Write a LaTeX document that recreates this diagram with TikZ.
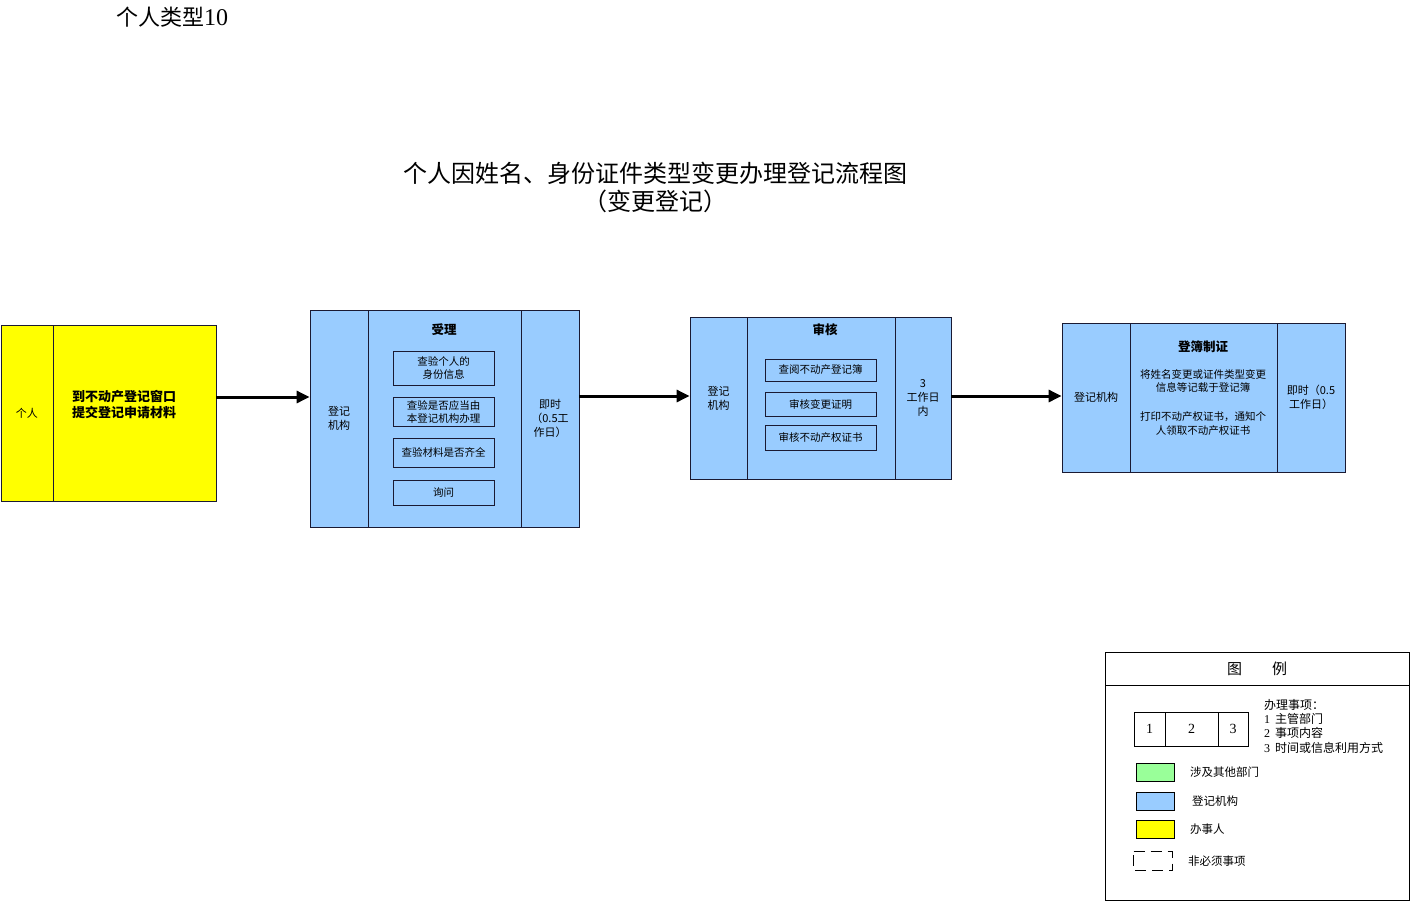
\documentclass[tikz,border=0pt]{standalone}
\usepackage{fontspec}
\setmainfont{Noto Sans CJK SC}
\newfontfamily\serifdig{Liberation Serif}
\usetikzlibrary{arrows.meta}
\definecolor{regblue}{HTML}{99CCFF}
\definecolor{appyel}{HTML}{FFFF00}
\definecolor{othgreen}{HTML}{99FF99}
\definecolor{edge}{HTML}{1A1A33}
\begin{document}
\begin{tikzpicture}[x=1pt,y=-1pt,
  cell/.style={draw=edge,line width=0.8pt,rectangle,inner sep=0pt,align=center,font=\fontsize{11}{14}\selectfont},
  bluecell/.style={cell,fill=regblue},
  yelcell/.style={cell,fill=appyel},
  inner/.style={draw=edge,line width=0.8pt,rectangle,inner sep=0pt,align=center,fill=regblue,font=\fontsize{10.5}{13}\selectfont},
  ttl/.style={font=\bfseries\fontsize{12.5}{15}\selectfont},
  arr/.style={line width=3pt,-{Triangle[length=13pt,width=12pt]}},
  lgtxt/.style={anchor=west,inner sep=0pt,font=\fontsize{11.5}{14}\selectfont},
  swatch/.style={draw=black,line width=1pt,rectangle,inner sep=0pt,minimum width=38pt,minimum height=18pt}
]
\useasboundingbox (0,0) rectangle (1410,902);
\fill[white] (0,0) rectangle (1410,902);

% headings
\node[anchor=west,inner sep=0pt,font=\fontsize{22}{24}\selectfont] (kind) at (116,17) {个人类型{\serifdig\fontsize{24}{24}\selectfont 10}};
\node[align=center,inner sep=0pt,font=\fontsize{24}{28}\selectfont] (title) at (655,187) {个人因姓名、身份证件类型变更办理登记流程图\\（变更登记）};

% applicant
\node[yelcell,minimum width=52pt,minimum height=176pt] (yl) at (27,413) {个人};
\node[yelcell,minimum width=163pt,minimum height=176pt] (ym) at (134.5,413) {};
\node[font=\bfseries\fontsize{13}{16}\selectfont,align=center] (ytext) at (124,405) {到不动产登记窗口\\提交登记申请材料};

% box 1
\node[bluecell,minimum width=58pt,minimum height=217pt] (b1l) at (339,418.5) {登记\\机构};
\node[bluecell,minimum width=153pt,minimum height=217pt] (b1m) at (444.5,418.5) {};
\node[bluecell,minimum width=58pt,minimum height=217pt] (b1r) at (550,418.5) {即时\\（0.5工\\作日）};
\node[ttl] (b1t) at (444,330) {受理};
\node[inner,minimum width=101pt,minimum height=34pt] (b1a) at (443.5,368) {查验个人的\\身份信息};
\node[inner,minimum width=101pt,minimum height=29pt] (b1b) at (443.5,411.5) {查验是否应当由\\本登记机构办理};
\node[inner,minimum width=101pt,minimum height=29pt] (b1c) at (443.5,452.5) {查验材料是否齐全};
\node[inner,minimum width=101pt,minimum height=25pt] (b1d) at (443.5,492.5) {询问};

% box 2
\node[bluecell,minimum width=57pt,minimum height=162pt] (b2l) at (718.5,398) {登记\\机构};
\node[bluecell,minimum width=148pt,minimum height=162pt] (b2m) at (821,398) {};
\node[bluecell,minimum width=56pt,minimum height=162pt] (b2r) at (923,398) {3\\工作日\\内};
\node[ttl] (b2t) at (825,330) {审核};
\node[inner,minimum width=111pt,minimum height=22pt] (b2a) at (820.5,370) {查阅不动产登记簿};
\node[inner,minimum width=111pt,minimum height=24pt] (b2b) at (820.5,404) {审核变更证明};
\node[inner,minimum width=111pt,minimum height=25pt] (b2c) at (820.5,437.5) {审核不动产权证书};

% box 3
\node[bluecell,minimum width=68pt,minimum height=149pt] (b3l) at (1096,397.5) {登记机构};
\node[bluecell,minimum width=147pt,minimum height=149pt] (b3m) at (1203.5,397.5) {};
\node[bluecell,minimum width=68pt,minimum height=149pt] (b3r) at (1311,397.5) {即时（0.5\\工作日）};
\node[ttl] (b3t) at (1203,347) {登簿制证};
\node[align=center,inner sep=0pt,font=\fontsize{10.5}{13.5}\selectfont] (b3x) at (1203,381) {将姓名变更或证件类型变更\\信息等记载于登记簿};
\node[align=center,inner sep=0pt,font=\fontsize{10.5}{14.5}\selectfont] (b3y) at (1203,423.5) {打印不动产权证书，通知个\\人领取不动产权证书};

% connectors
\coordinate (r1) at (0,397);
\coordinate (r2) at (0,396);
\draw[arr] (ym.east |- r1) -- (b1l.west |- r1);
\draw[arr] (b1r.east |- r2) -- (b2l.west |- r2);
\draw[arr] (b2r.east |- r2) -- (b3l.west |- r2);

% legend
\node[draw=black,line width=0.8pt,rectangle,inner sep=0pt,minimum width=304pt,minimum height=33pt,font=\fontsize{15}{18}\selectfont] (lgh) at (1257,668.5) {图\hspace{2em}例};
\node[draw=black,line width=0.8pt,rectangle,inner sep=0pt,minimum width=304pt,minimum height=215pt] (lgb) at (1257,792.5) {};
\node[draw=black,line width=1pt,rectangle,inner sep=0pt,minimum width=31pt,minimum height=34pt,font=\serifdig\fontsize{14}{16}\selectfont] (k1) at (1149.5,729) {1};
\node[draw=black,line width=1pt,rectangle,inner sep=0pt,minimum width=53pt,minimum height=34pt,font=\serifdig\fontsize{14}{16}\selectfont] (k2) at (1191.5,729) {2};
\node[draw=black,line width=1pt,rectangle,inner sep=0pt,minimum width=30pt,minimum height=34pt,font=\serifdig\fontsize{14}{16}\selectfont] (k3) at (1233,729) {3};
\node[anchor=north west,inner sep=0pt,align=left,font=\fontsize{12}{14.3}\selectfont] (kdesc) at (1264,699) {办理事项：\\{\serifdig 1}\hspace{0.4em}主管部门\\{\serifdig 2}\hspace{0.4em}事项内容\\{\serifdig 3}\hspace{0.4em}时间或信息利用方式};
\node[swatch,fill=othgreen] (sg) at (1155,772) {};
\node[lgtxt] (tg) at (1190,772) {涉及其他部门};
\node[swatch,fill=regblue] (sb) at (1155,801) {};
\node[lgtxt] (tb) at (1192,801) {登记机构};
\node[swatch,fill=appyel] (sy) at (1155,829) {};
\node[lgtxt] (ty) at (1190,829) {办事人};
\node[swatch,draw=none] (sd) at (1153,861) {};
\draw[line width=1.6pt,dash pattern=on 11pt off 6pt] (sd.north west) -- (sd.north east) -- (sd.south east) -- (sd.south west) -- cycle;
\node[lgtxt] (td) at (1188,861) {非必须事项};
\end{tikzpicture}
\end{document}
